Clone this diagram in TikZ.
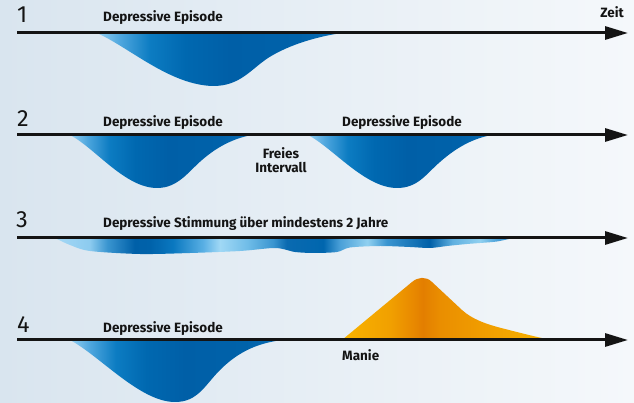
\documentclass[tikz,border=0pt]{standalone}
\usepackage{fontspec}
\setmainfont{Fira Sans}
\usetikzlibrary{arrows.meta}
\definecolor{txt}{HTML}{141414}
\definecolor{bgL}{HTML}{D9E5EF}
\definecolor{bgR}{HTML}{F5F8FB}
\definecolor{dA}{HTML}{95D0F2}
\definecolor{dB}{HTML}{4EA6DE}
\definecolor{dC}{HTML}{0C7CC2}
\definecolor{dD}{HTML}{0068B0}
\definecolor{dE}{HTML}{005FA7}
\definecolor{dF}{HTML}{0062AA}
\definecolor{dG}{HTML}{0A6DB5}
\definecolor{yA}{HTML}{A5D8F5}
\definecolor{yB}{HTML}{8CCBEF}
\definecolor{yC}{HTML}{3A95D0}
\definecolor{yD}{HTML}{0060A8}
\definecolor{yE}{HTML}{0062AA}
\definecolor{yF}{HTML}{0A78C0}
\definecolor{yG}{HTML}{5AB0E4}
\definecolor{yH}{HTML}{A0D8F5}
\definecolor{yI}{HTML}{70BDE8}
\definecolor{yJ}{HTML}{0A6AB0}
\definecolor{yK}{HTML}{0066AE}
\definecolor{yL}{HTML}{4AA0D8}
\definecolor{yM}{HTML}{90D0F0}
\definecolor{yN}{HTML}{60B0E0}
\definecolor{yO}{HTML}{3090D0}
\definecolor{oA}{HTML}{F9B400}
\definecolor{oB}{HTML}{F1A000}
\definecolor{oC}{HTML}{E98A00}
\definecolor{oD}{HTML}{E37E00}
\definecolor{oE}{HTML}{EA8E00}
\definecolor{oF}{HTML}{F09C00}
\definecolor{oG}{HTML}{F8B400}
\pgfdeclarehorizontalshading{depshade}{100bp}{color(0bp)=(dA); color(25bp)=(dA); color(29.7bp)=(dB); color(35.8bp)=(dC); color(43bp)=(dD); color(52.1bp)=(dE); color(66.4bp)=(dF); color(75bp)=(dG); color(100bp)=(dG)}
\pgfdeclarehorizontalshading{dysshade}{100bp}{color(0bp)=(yA); color(25bp)=(yA); color(28.8bp)=(yB); color(30.7bp)=(yC); color(33.7bp)=(yD); color(35.4bp)=(yE); color(37.9bp)=(yF); color(41.2bp)=(yG); color(43bp)=(yH); color(46bp)=(yI); color(48.8bp)=(yC); color(50.3bp)=(yJ); color(54.3bp)=(yK); color(56.1bp)=(yL); color(59.1bp)=(yM); color(61.2bp)=(yC); color(65.9bp)=(yD); color(68.4bp)=(yN); color(71.4bp)=(yM); color(73.3bp)=(yL); color(75bp)=(yO); color(100bp)=(yO)}
\pgfdeclarehorizontalshading{manshade}{100bp}{color(0bp)=(oA); color(25bp)=(oA); color(36.4bp)=(oB); color(41.7bp)=(oC); color(44.3bp)=(oD); color(48.3bp)=(oE); color(57.9bp)=(oF); color(75bp)=(oG); color(100bp)=(oG)}
\begin{document}
\begin{tikzpicture}[x=0.03cm,y=-0.03cm,
  lab/.style={font=\bfseries\fontsize{11.5}{13}\selectfont, inner sep=0pt, text=txt},
  num/.style={font=\fontsize{20}{22}\selectfont, inner sep=0pt, text=txt},
  axisline/.style={draw=txt, line width=0.09cm, -{Triangle[length=0.69cm,width=0.39cm]}}]
\useasboundingbox (0,0) rectangle (634,403);
\shade[left color=bgL, right color=bgR] (0,0) rectangle (634,403);

% row 1
\shade[shading=depshade] (97,33) .. controls (130,48) and (170,85) .. (213,86)
  .. controls (240,86) and (250,70) .. (268,58)
  .. controls (290,44) and (320,36) .. (342,33) -- cycle;
% row 2
\shade[shading=depshade] (70,135) .. controls (95,148) and (125,188) .. (157,188)
  .. controls (178,188) and (188,172) .. (202,160)
  .. controls (218,146) and (235,138) .. (252,135) -- cycle;
\shade[shading=depshade] (308,135) .. controls (333,148) and (365,188) .. (397,188)
  .. controls (418,188) and (426,174) .. (440,162)
  .. controls (458,146) and (475,138) .. (492,135) -- cycle;
% row 3
\shade[shading=dysshade] plot[smooth] coordinates {(55,238) (70,245) (90,251) (140,254) (190,253) (240,251) (273,248) (285,249.5) (295,252) (313,253) (337,252) (350,247.5) (380,246) (410,247) (430,248) (447,246) (467,244) (480,243) (497,241.5) (513,238)} -- cycle;
% row 4
\shade[shading=depshade] (70,340) .. controls (100,356) and (140,402) .. (175,402)
  .. controls (198,402) and (205,385) .. (220,370)
  .. controls (240,350) and (260,343) .. (282,340) -- cycle;
\shade[shading=manshade] (342,340) -- (412,282) .. controls (418,277) and (426,276) .. (432,282)
  -- (462,310) .. controls (472,319) and (485,324) .. (505,329)
  .. controls (525,334) and (540,338) .. (552,340) -- cycle;

% axes
\coordinate (s1) at (17,33);  \coordinate (e1) at (628,33);
\coordinate (s2) at (17,135); \coordinate (e2) at (628,135);
\coordinate (s3) at (17,238); \coordinate (e3) at (628,238);
\coordinate (s4) at (17,340); \coordinate (e4) at (628,340);
\draw[axisline] (s1) -- (e1);
\draw[axisline] (s2) -- (e2);
\draw[axisline] (s3) -- (e3);
\draw[axisline] (s4) -- (e4);

% numbers
\node[num, anchor=base west] (n1) at (17,23) {1};
\node[num, anchor=base west] (n2) at (17,127) {2};
\node[num, anchor=base west] (n3) at (16,228) {3};
\node[num, anchor=base west] (n4) at (17,333) {4};

% labels
\node[lab, anchor=base east] (zeit) at (624,17.3) {Zeit};
\node[lab, anchor=base west] (l1) at (103,22) {Depressive Episode};
\node[lab, anchor=base west] (l2a) at (103,126.7) {Depressive Episode};
\node[lab, anchor=base west] (l2b) at (342,126.7) {Depressive Episode};
\node[lab, anchor=base] (fr1) at (281,158.3) {Freies};
\node[lab, anchor=base] (fr2) at (281,172.7) {Intervall};
\node[lab, anchor=base west] (l3) at (103,228) {Depressive Stimmung über mindestens 2 Jahre};
\node[lab, anchor=base west] (l4) at (103,333) {Depressive Episode};
\node[lab, anchor=base west] (man) at (342,360.7) {Manie};
\end{tikzpicture}
\end{document}
